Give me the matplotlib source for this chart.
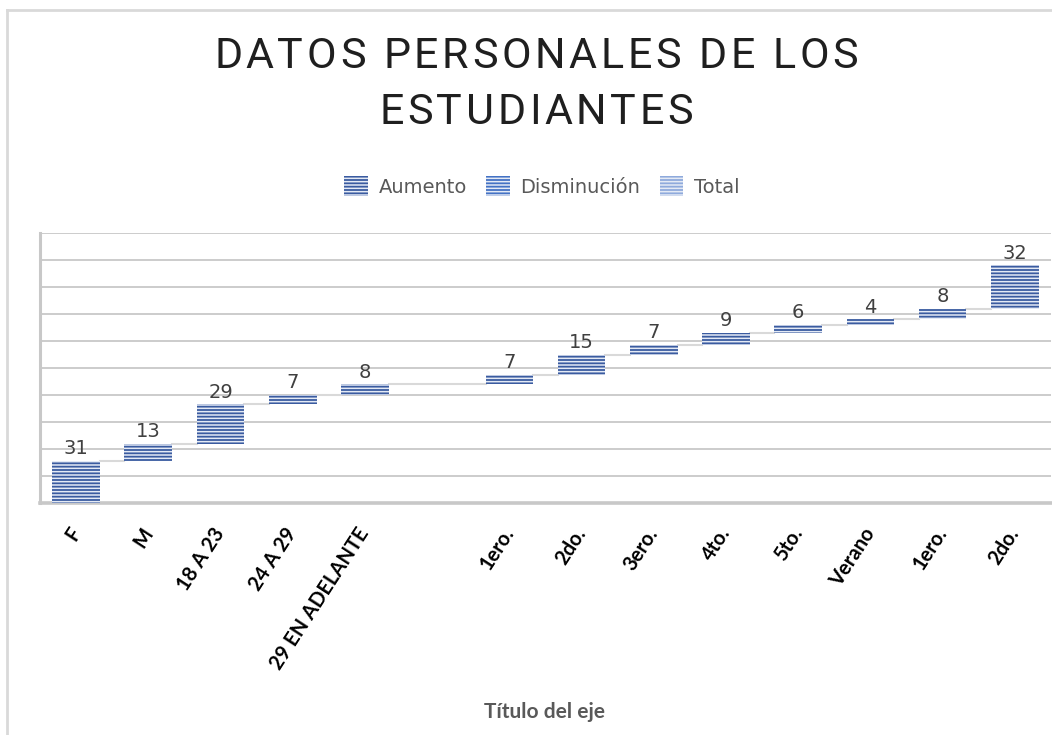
import numpy as np
import matplotlib.pyplot as plt
from matplotlib.patches import Patch
from matplotlib.lines import Line2D
from matplotlib.font_manager import FontProperties

categories = ["F", "M", "18 A 23", "24 A 29", "29 EN ADELANTE", "",
              "1ero.", "2do.", "3ero.", "4to.", "5to.", "Verano", "1ero.", "2do."]
values = [31, 13, 29, 7, 8, None, 7, 15, 7, 9, 6, 4, 8, 32]
legend_names = ["Aumento", "Disminución", "Total"]
title_lines = ["DATOS PERSONALES DE LOS", "ESTUDIANTES"]

c_up = "#3A5BA0"
c_down = "#4472C4"
c_total = "#8FAADC"
grid_c = "#C8C8C8"

plt.rcParams['hatch.linewidth'] = 1.1

fig = plt.figure(figsize=(10.52, 7.35), dpi=100)
ax = fig.add_axes([0.038, 0.3156, 0.961, 0.3674])

x = np.arange(len(categories))
w = 0.66
bottoms = []
tops = []
level = 0
for v in values:
    bottoms.append(level)
    if v is not None:
        level += v
    tops.append(level)

for i, v in enumerate(values):
    if v is None:
        continue
    ax.bar(x[i], v, width=w, bottom=bottoms[i], color=c_up,
           edgecolor="#E4EAF5", hatch="-----", linewidth=0, zorder=3)
    ax.text(x[i], tops[i] + 2, str(v), ha="center", va="bottom",
            fontsize=14, color="#404040", zorder=4)

# connector lines, running across the empty category
for i in range(len(values) - 1):
    if values[i] is None:
        continue
    j = i + 1
    while values[j] is None:
        j += 1
    ax.plot([x[i] + w / 2, x[j] - w / 2], [tops[i], tops[i]], color="#D9D9D9",
            lw=1.5, zorder=2)

ax.set_xlim(-0.5, len(categories) - 0.5)
ax.set_ylim(0, 200)
ax.set_yticks(np.arange(0, 201, 20))
ax.set_yticklabels([])
ax.tick_params(axis="y", length=0)
ax.grid(axis="y", color=grid_c, lw=1.3, zorder=0)
ax.set_axisbelow(True)
for s in ["top", "right"]:
    ax.spines[s].set_visible(False)
ax.spines["left"].set_color(grid_c)
ax.spines["left"].set_linewidth(2.2)
ax.spines["bottom"].set_color(grid_c)
ax.spines["bottom"].set_linewidth(2.6)

ax.set_xticks(x)
ax.set_xticklabels(categories, rotation=57, ha="right", va="center",
                   rotation_mode="anchor", fontsize=14.5, fontweight="bold",
                   family="Lato")
ax.tick_params(axis="x", length=0, pad=19)

fig.text(0.518, 0.018, "Título del eje", ha="center", va="bottom",
         fontsize=15, fontweight="bold", color="#595959", family="Lato")

# title with wide letter spacing, placed one character at a time
renderer = fig.canvas.get_renderer()
fp = FontProperties(family="Roboto", weight="normal", size=31)
track = 3.6
W, H = fig.bbox.width, fig.bbox.height


def char_w(ch):
    if ch == " ":
        a = renderer.get_text_width_height_descent("a a", fp, ismath=False)[0]
        b = renderer.get_text_width_height_descent("aa", fp, ismath=False)[0]
        return a - b
    return renderer.get_text_width_height_descent(ch, fp, ismath=False)[0]


for line, y_px in zip(title_lines, [57, 112]):
    widths = [char_w(c) for c in line]
    total = sum(widths) + track * (len(line) - 1)
    xp = 536 - total / 2
    for ch, cw in zip(line, widths):
        if ch != " ":
            fig.text(xp / W, 1 - y_px / H, ch, ha="left", va="center",
                     fontproperties=fp, color="#1F1F1F")
        xp += cw + track

handles = [Patch(facecolor=c, edgecolor="#E4EAF5", hatch="-----", linewidth=0)
           for c in (c_up, c_down, c_total)]
leg = fig.legend(handles, legend_names, loc="center", ncol=3,
                 bbox_to_anchor=(0.515, 0.746), frameon=False, fontsize=14,
                 handlelength=1.2, handleheight=1.2, columnspacing=1.0,
                 handletextpad=0.55)
for t in leg.get_texts():
    t.set_color("#595959")

# outer chart frame
fig.add_artist(Line2D([0.007, 0.007], [0, 0.987], color="#D9D9D9", lw=2))
fig.add_artist(Line2D([0.007, 1], [0.987, 0.987], color="#D9D9D9", lw=2))

fig.savefig("out.png", dpi=100)
